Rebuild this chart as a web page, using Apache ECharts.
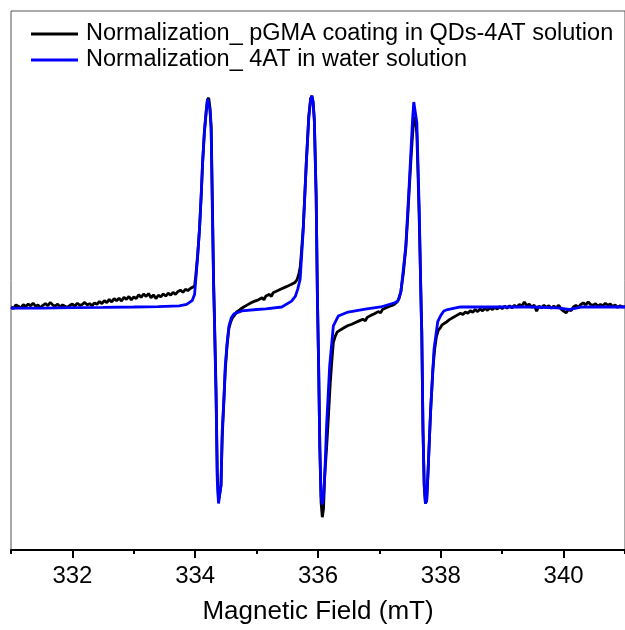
<!DOCTYPE html>
<html>
<head>
<meta charset="utf-8">
<script src="https://cdn.jsdelivr.net/npm/echarts@6/dist/echarts.min.js"></script>
<style>
  html, body { margin: 0; padding: 0; background: #fff; }
  #chart { width: 625px; height: 630px; }
</style>
</head>
<body>
<div id="chart"></div>
<script>
// legend names
const seriesNames = [
  'Normalization_ pGMA coating in QDs-4AT solution',
  'Normalization_ 4AT in water solution'
];
const majorTicks = [332, 334, 336, 338, 340];
const minorTicks = [331, 333, 335, 337, 339, 341];

// [field (mT), normalized signal]
const pgmaData = [
  [331.00, 0.000], [331.04, -0.008], [331.08, 0.010], [331.12, 0.004], [331.16, -0.006],
  [331.20, 0.012], [331.24, 0.002], [331.28, 0.014], [331.32, 0.006], [331.36, 0.018],
  [331.40, 0.004], [331.44, 0.010], [331.48, -0.004], [331.52, 0.008], [331.56, 0.016],
  [331.60, 0.006], [331.64, 0.022], [331.68, 0.010], [331.72, 0.004], [331.76, 0.014],
  [331.80, 0.000], [331.84, 0.010], [331.88, 0.004], [331.92, -0.002], [331.96, 0.008],
  [332.00, 0.014], [332.04, 0.004], [332.08, 0.018], [332.12, 0.008], [332.16, 0.012],
  [332.20, 0.022], [332.24, 0.010], [332.28, 0.016], [332.32, 0.006], [332.36, 0.020],
  [332.40, 0.012], [332.44, 0.026], [332.48, 0.016], [332.52, 0.030], [332.56, 0.020],
  [332.60, 0.036], [332.64, 0.024], [332.68, 0.040], [332.72, 0.030], [332.76, 0.042],
  [332.80, 0.028], [332.84, 0.046], [332.88, 0.036], [332.92, 0.050], [332.96, 0.034],
  [333.00, 0.048], [333.04, 0.040], [333.08, 0.058], [333.12, 0.046], [333.16, 0.062],
  [333.20, 0.050], [333.24, 0.064], [333.28, 0.044], [333.32, 0.058], [333.36, 0.040],
  [333.40, 0.056], [333.44, 0.048], [333.48, 0.062], [333.52, 0.052], [333.56, 0.066],
  [333.60, 0.056], [333.64, 0.070], [333.68, 0.060], [333.72, 0.074], [333.76, 0.080],
  [333.80, 0.070], [333.84, 0.084], [333.88, 0.078], [333.92, 0.088], [333.95, 0.090],
  [333.99, 0.100], [334.01, 0.150], [334.04, 0.250], [334.07, 0.370], [334.10, 0.540],
  [334.12, 0.680], [334.15, 0.830], [334.18, 0.930], [334.20, 0.985], [334.22, 0.995],
  [334.24, 0.950], [334.26, 0.860], [334.28, 0.500], [334.30, 0.120], [334.31, 0.000],
  [334.34, -0.400], [334.36, -0.800], [334.38, -0.920], [334.40, -0.920], [334.42, -0.850],
  [334.44, -0.620], [334.47, -0.430], [334.49, -0.300], [334.52, -0.180], [334.55, -0.100],
  [334.58, -0.070], [334.61, -0.050], [334.64, -0.040], [334.67, -0.025], [334.70, -0.030],
  [334.73, -0.012], [334.76, -0.020], [334.79, 0.000], [334.82, -0.006], [334.85, 0.010],
  [334.88, 0.004], [334.91, 0.020], [334.94, 0.012], [334.97, 0.028], [335.00, 0.020],
  [335.03, 0.034], [335.06, 0.026], [335.09, 0.044], [335.12, 0.034], [335.15, 0.052],
  [335.18, 0.044], [335.21, 0.060], [335.24, 0.050], [335.27, 0.068], [335.30, 0.060],
  [335.33, 0.076], [335.36, 0.068], [335.39, 0.084], [335.42, 0.078], [335.45, 0.092],
  [335.48, 0.086], [335.51, 0.100], [335.54, 0.094], [335.57, 0.108], [335.60, 0.104],
  [335.63, 0.118], [335.66, 0.130], [335.69, 0.160], [335.71, 0.190], [335.73, 0.260],
  [335.76, 0.380], [335.81, 0.690], [335.85, 0.910], [335.88, 0.990], [335.90, 1.005],
  [335.92, 0.975], [335.94, 0.890], [335.97, 0.530], [335.99, 0.060], [336.01, -0.270],
  [336.03, -0.670], [336.05, -0.930], [336.07, -1.000], [336.09, -0.960], [336.11, -0.800],
  [336.14, -0.670], [336.17, -0.520], [336.20, -0.360], [336.23, -0.240], [336.25, -0.170],
  [336.28, -0.140], [336.31, -0.120], [336.34, -0.125], [336.37, -0.108], [336.40, -0.114],
  [336.43, -0.098], [336.46, -0.104], [336.49, -0.088], [336.52, -0.096], [336.55, -0.082],
  [336.58, -0.090], [336.61, -0.074], [336.64, -0.082], [336.67, -0.066], [336.70, -0.074],
  [336.73, -0.058], [336.77, -0.066], [336.80, -0.050], [336.83, -0.058], [336.86, -0.040],
  [336.89, -0.048], [336.92, -0.032], [336.95, -0.038], [336.98, -0.022], [337.02, -0.028],
  [337.05, -0.012], [337.08, -0.018], [337.11, -0.004], [337.14, -0.010], [337.17, 0.004],
  [337.20, -0.002], [337.23, 0.010], [337.26, 0.012], [337.29, 0.024], [337.32, 0.040],
  [337.35, 0.075], [337.39, 0.160], [337.43, 0.280], [337.46, 0.420], [337.49, 0.580],
  [337.52, 0.730], [337.55, 0.860], [337.57, 0.905], [337.59, 0.890], [337.61, 0.820],
  [337.63, 0.620], [337.65, 0.400], [337.68, 0.020], [337.69, -0.120], [337.71, -0.580],
  [337.73, -0.850], [337.75, -0.935], [337.77, -0.920], [337.79, -0.800], [337.81, -0.660],
  [337.84, -0.460], [337.87, -0.300], [337.90, -0.200], [337.93, -0.140], [337.96, -0.110],
  [337.99, -0.100], [338.02, -0.085], [338.05, -0.092], [338.08, -0.074], [338.11, -0.080],
  [338.14, -0.060], [338.17, -0.068], [338.20, -0.050], [338.23, -0.056], [338.26, -0.040],
  [338.29, -0.046], [338.32, -0.030], [338.36, -0.036], [338.40, -0.024], [338.44, -0.030],
  [338.48, -0.018], [338.52, -0.026], [338.56, -0.012], [338.60, -0.022], [338.64, -0.010],
  [338.68, -0.018], [338.72, -0.006], [338.76, -0.016], [338.80, -0.004], [338.84, -0.012],
  [338.88, -0.002], [338.92, -0.010], [338.96, 0.002], [339.00, -0.008], [339.04, 0.004],
  [339.08, -0.006], [339.12, 0.006], [339.16, -0.004], [339.20, 0.008], [339.24, 0.000],
  [339.28, 0.012], [339.32, 0.004], [339.36, 0.024], [339.40, 0.006], [339.44, 0.014],
  [339.48, -0.002], [339.52, 0.010], [339.56, -0.020], [339.60, 0.004], [339.64, -0.004],
  [339.68, 0.008], [339.72, -0.002], [339.76, 0.006], [339.80, -0.006], [339.84, 0.004],
  [339.88, -0.004], [339.92, 0.008], [339.96, -0.010], [340.00, -0.020], [340.04, -0.028],
  [340.08, -0.012], [340.12, -0.018], [340.16, 0.000], [340.20, 0.008], [340.24, -0.002],
  [340.28, 0.012], [340.32, 0.020], [340.36, 0.010], [340.40, 0.024], [340.44, 0.012],
  [340.48, 0.008], [340.52, 0.016], [340.56, 0.004], [340.60, 0.012], [340.64, 0.006],
  [340.68, 0.018], [340.72, 0.008], [340.76, 0.014], [340.80, 0.002], [340.84, 0.010],
  [340.88, -0.002], [340.92, 0.006], [340.96, 0.000], [341.00, 0.002]
];

const waterData = [
  [331.00, -0.005], [331.50, -0.005], [332.00, -0.003], [332.50, -0.002], [333.00, 0.000],
  [333.40, 0.002], [333.74, 0.005], [333.86, 0.012], [333.95, 0.030], [333.99, 0.060],
  [334.01, 0.133], [334.04, 0.240], [334.07, 0.370], [334.10, 0.550], [334.12, 0.687],
  [334.15, 0.840], [334.18, 0.935], [334.20, 0.990], [334.22, 0.995], [334.24, 0.940],
  [334.26, 0.844], [334.28, 0.450], [334.30, 0.100], [334.31, -0.024], [334.34, -0.436],
  [334.36, -0.829], [334.38, -0.935], [334.40, -0.935], [334.42, -0.848], [334.44, -0.592],
  [334.47, -0.420], [334.49, -0.280], [334.52, -0.170], [334.55, -0.090], [334.59, -0.050],
  [334.63, -0.033], [334.76, -0.019], [335.00, -0.012], [335.15, -0.009], [335.41, 0.000],
  [335.57, 0.028], [335.63, 0.050], [335.67, 0.085], [335.71, 0.133], [335.76, 0.370],
  [335.81, 0.687], [335.85, 0.900], [335.88, 0.990], [335.90, 1.005], [335.92, 0.975],
  [335.94, 0.891], [335.97, 0.526], [335.99, 0.050], [336.01, -0.280], [336.03, -0.673],
  [336.05, -0.900], [336.07, -0.940], [336.09, -0.900], [336.11, -0.800], [336.14, -0.564],
  [336.19, -0.280], [336.25, -0.090], [336.33, -0.043], [336.49, -0.024], [336.77, -0.010],
  [337.02, 0.000], [337.25, 0.020], [337.30, 0.028], [337.35, 0.071], [337.43, 0.289],
  [337.49, 0.607], [337.54, 0.891], [337.56, 0.975], [337.58, 0.975], [337.61, 0.877],
  [337.65, 0.450], [337.68, -0.024], [337.69, -0.118], [337.71, -0.592], [337.73, -0.850],
  [337.75, -0.935], [337.77, -0.920], [337.79, -0.800], [337.83, -0.517], [337.89, -0.199],
  [337.95, -0.070], [338.00, -0.040], [338.05, -0.019], [338.11, -0.012], [338.32, 0.000],
  [338.60, 0.000], [339.00, 0.000], [339.50, 0.000], [339.90, -0.004], [340.09, -0.012],
  [340.30, 0.000], [341.00, 0.000]
];

const chart = echarts.init(document.getElementById('chart'));
const font = '"Liberation Sans", Arial, sans-serif';

const option = {
  animation: false,
  backgroundColor: '#fff',
  grid: {
    left: 11,
    top: 11,
    right: -4,
    bottom: 78,
    show: true,
    borderColor: '#555',
    borderWidth: 1
  },
  legend: {
    orient: 'vertical',
    left: 31,
    top: 22,
    padding: 0,
    icon: 'rect',
    itemWidth: 47,
    itemHeight: 3,
    itemGap: 2,
    textStyle: { fontFamily: font, fontSize: 23.5, color: '#000', lineHeight: 24, padding: [0, 0, 0, 3] },
    data: seriesNames
  },
  xAxis: [
    {
      type: 'value',
      min: 331,
      max: 341,
      interval: 1,
      position: 'bottom',
      splitLine: { show: false },
      axisLine: { show: true, onZero: false, lineStyle: { color: '#000', width: 2 } },
      axisTick: { show: true, customValues: majorTicks, length: 8, lineStyle: { color: '#000', width: 2 } },
      axisLabel: {
        customValues: majorTicks,
        margin: 14,
        fontFamily: font,
        fontSize: 24,
        color: '#000',
        formatter: v => (v % 2 === 0 ? String(v) : '')
      },
      name: 'Magnetic Field (mT)',
      nameLocation: 'middle',
      nameGap: 49,
      nameTextStyle: { fontFamily: font, fontSize: 26, color: '#000' }
    },
    {
      type: 'value',
      min: 331,
      max: 341,
      interval: 1,
      position: 'bottom',
      splitLine: { show: false },
      axisLine: { show: false, onZero: false },
      axisTick: { show: true, customValues: minorTicks, length: 4, lineStyle: { color: '#000', width: 2 } },
      axisLabel: { show: false }
    }
  ],
  yAxis: {
    type: 'value',
    min: -1.156,
    max: 1.408,
    show: false
  },
  series: [
    {
      name: seriesNames[0],
      type: 'line',
      data: pgmaData,
      symbol: 'none',
      lineStyle: { color: '#000', width: 2.8 },
      itemStyle: { color: '#000' }
    },
    {
      name: seriesNames[1],
      type: 'line',
      data: waterData,
      symbol: 'none',
      lineStyle: { color: '#0000ff', width: 2.8 },
      itemStyle: { color: '#0000ff' }
    }
  ]
};

chart.setOption(option);
</script>
</body>
</html>
